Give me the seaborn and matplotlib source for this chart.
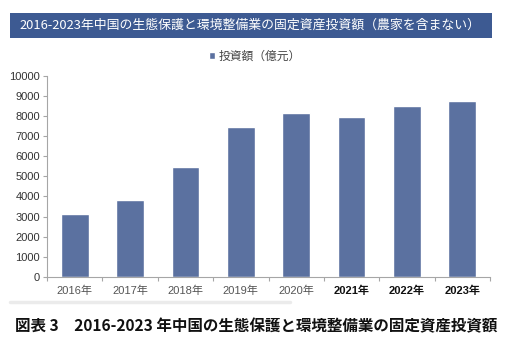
import matplotlib
matplotlib.use("Agg")
import matplotlib.pyplot as plt
import seaborn as sns
import pandas as pd
from matplotlib.patches import Rectangle
from matplotlib.lines import Line2D

years = ["2016年", "2017年", "2018年", "2019年", "2020年", "2021年", "2022年", "2023年"]
values = [3130, 3810, 5450, 7440, 8150, 7950, 8490, 8730]
yticks = [0, 1000, 2000, 3000, 4000, 5000, 6000, 7000, 8000, 9000, 10000]
title = "2016-2023年中国の生態保護と環境整備業の固定資産投資額（農家を含まない）"
legend_label = "投資額（億元）"
caption = "図表 3　2016-2023 年中国の生態保護と環境整備業の固定資産投資額"

sns.set_style("white")
plt.rcParams['font.family'] = ['Liberation Sans', 'Noto Sans CJK JP', 'DejaVu Sans']

fig = plt.figure(figsize=(5.11, 3.43), dpi=100)
ax = fig.add_axes([47/511, 1-277/343, (490-47)/511, (277-75.7)/343])

df = pd.DataFrame({"year": years, "value": values})
sns.barplot(data=df, x="year", y="value", color="#5B71A0", saturation=1,
            width=0.5, ax=ax, label=legend_label)

ax.set_ylim(0, 10000)
ax.set_xlim(-0.5, len(years) - 0.5)
ax.set_yticks(yticks)
ax.set_yticklabels([str(v) for v in yticks], fontsize=8, color="#333333")
ax.set_xlabel("")
ax.set_ylabel("")

for s in ["top", "right"]:
    ax.spines[s].set_visible(False)
for s in ["left", "bottom"]:
    ax.spines[s].set_color("#A6A6A6")
    ax.spines[s].set_linewidth(0.8)

ax.tick_params(axis="y", direction="out", length=3, width=0.8, color="#A6A6A6", pad=2, left=True)
ax.tick_params(axis="x", which="major", length=0, pad=6)
ax.set_xticks([i - 0.5 for i in range(len(years) + 1)], minor=True)
ax.tick_params(axis="x", which="minor", direction="out", length=3, width=0.8, color="#A6A6A6", bottom=True)

ax.set_xticks(range(len(years)))
ax.set_xticklabels(years)
for i, lab in enumerate(ax.get_xticklabels()):
    lab.set_fontfamily(['Liberation Sans', 'Noto Sans CJK JP'])
    lab.set_fontsize(8)
    if i >= 5:
        lab.set_fontweight("bold")
        lab.set_color("#111111")
    else:
        lab.set_color("#555555")

leg = ax.legend(loc="center", frameon=False, fontsize=8.5, handlelength=0.5, handleheight=0.5,
                handletextpad=0.3, borderaxespad=0)
leg.set_bbox_to_anchor((255/511, 1-57/343), transform=fig.transFigure)
for t in leg.get_texts():
    t.set_color("#444444")

# title bar
fig.add_artist(Rectangle((10/511, 1-38/343), (492-10)/511, 25/343,
                         transform=fig.transFigure, facecolor="#3D5A92", edgecolor="none"))
fig.text(250/511, 1-25.5/343, title, ha="center", va="center", color="white",
         fontsize=9.3, family=['Noto Sans CJK JP', 'DejaVu Sans'])

# faint separator line
fig.add_artist(Line2D([10/511, 290/511], [1-302/343, 1-302/343], transform=fig.transFigure,
                      color="#EBEBEB", lw=2.5))

fig.text(256/511, 1-326/343, caption, ha="center", va="center", color="#111111",
         fontsize=11.2, fontweight="bold", family=['Noto Sans CJK JP', 'DejaVu Sans'])

fig.savefig("out.png", dpi=100, facecolor="white")
